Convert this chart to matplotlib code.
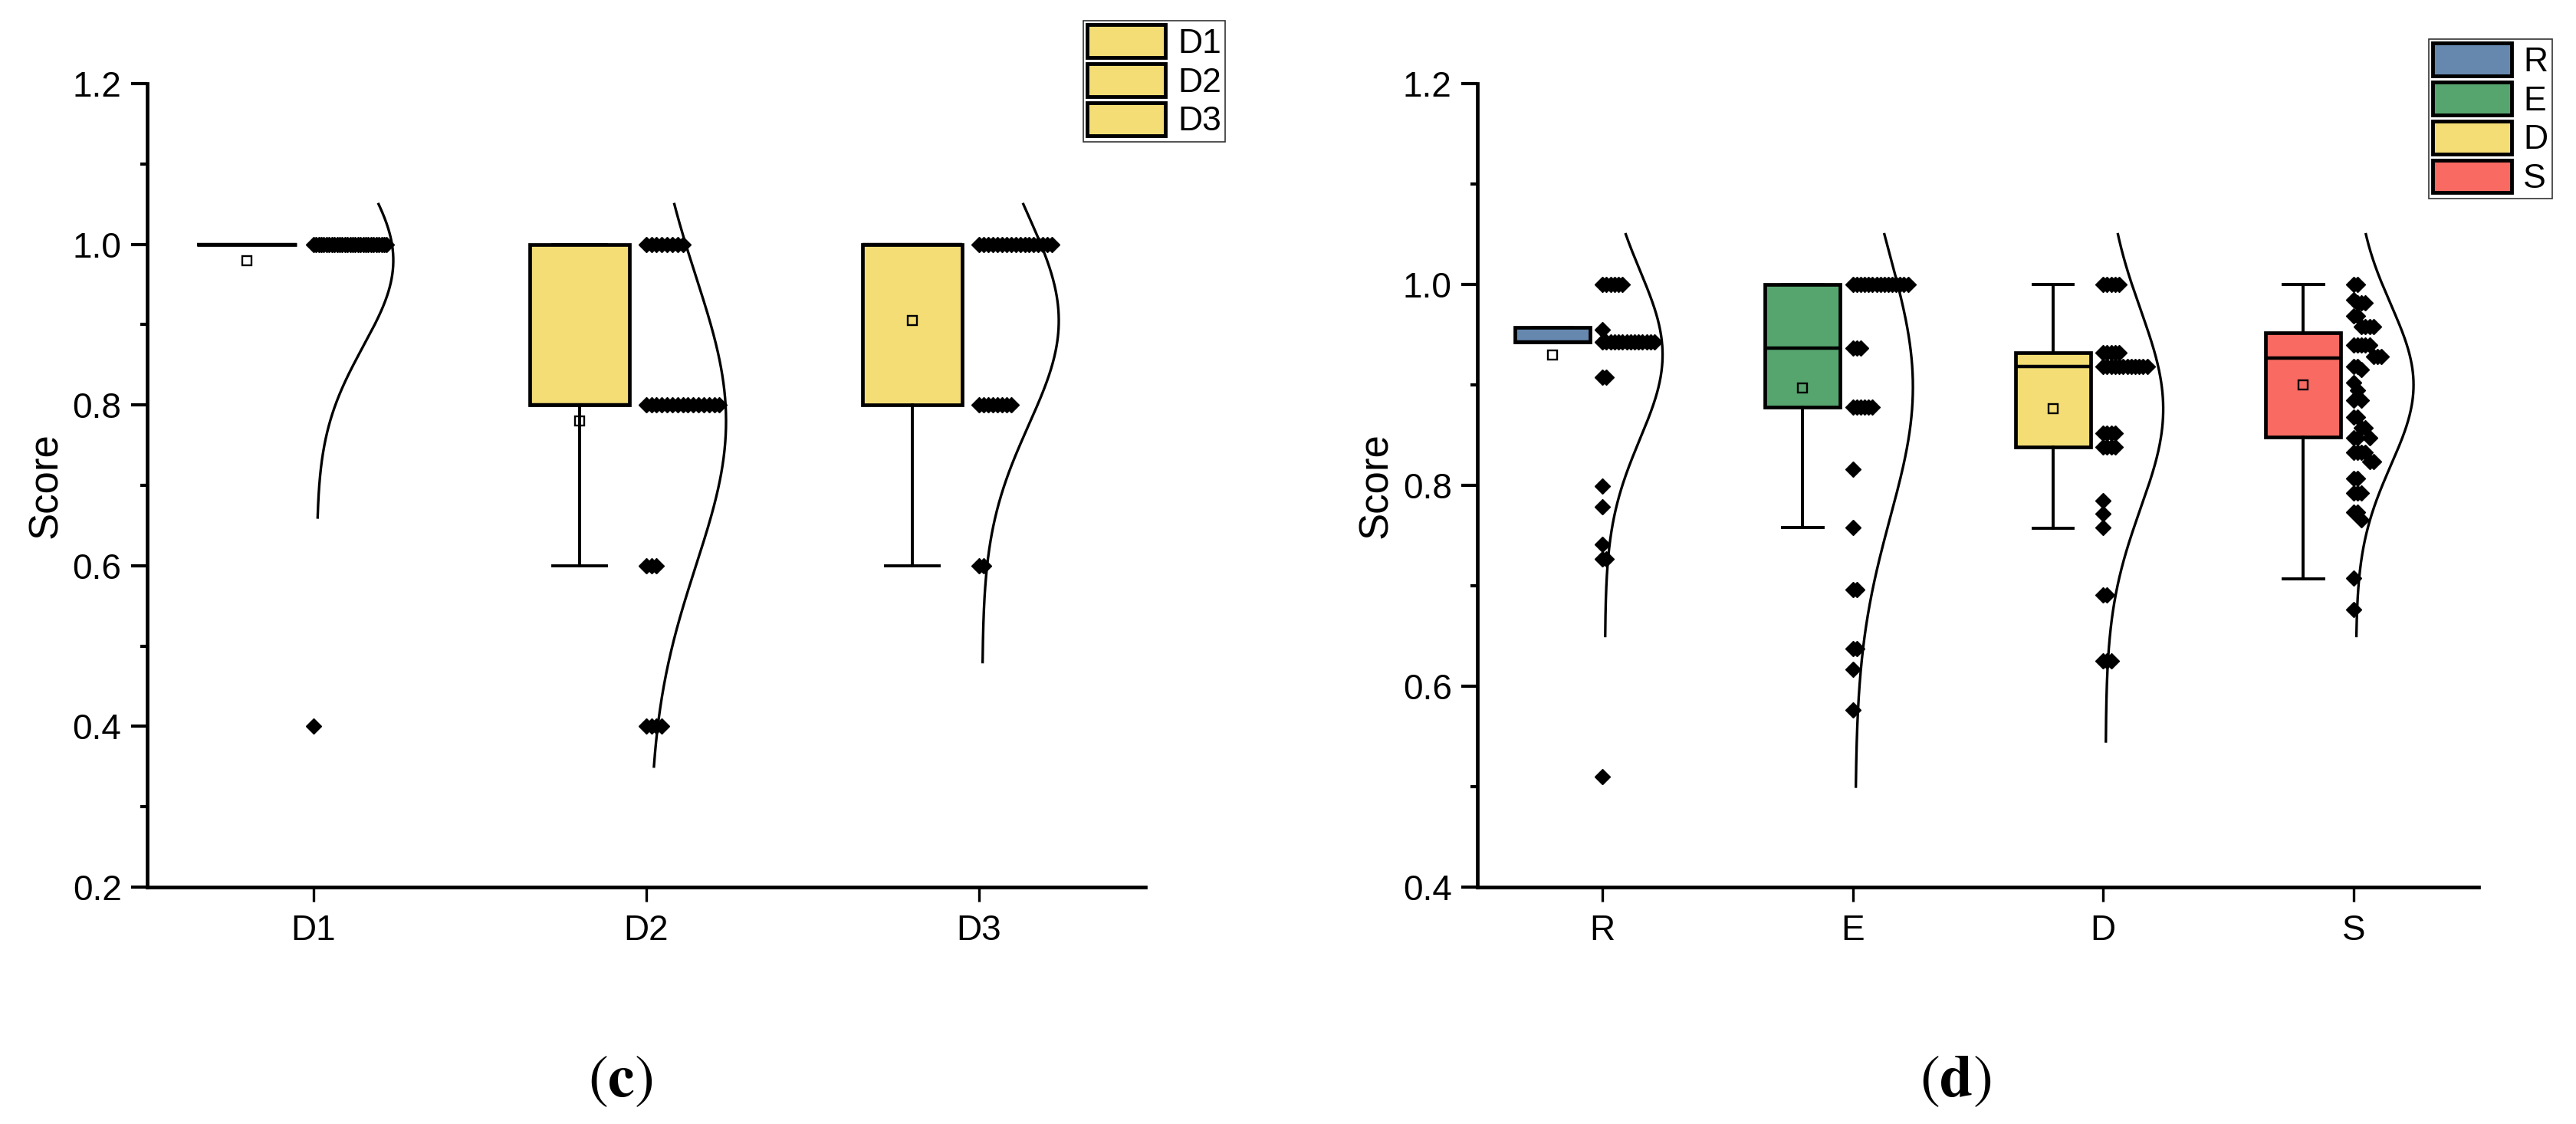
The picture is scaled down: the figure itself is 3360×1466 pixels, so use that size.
import numpy as np
import matplotlib
matplotlib.use("Agg")
import matplotlib.pyplot as plt
from matplotlib.patches import Patch
from matplotlib.ticker import MultipleLocator, FormatStrFormatter

plt.rcParams['font.family'] = ['Liberation Sans', 'DejaVu Sans']
plt.rcParams['mathtext.fontset'] = 'stix'

# ---- panel (c) data ----
c_groups = ['D1', 'D2', 'D3']
c_colors = ['#F3DD74', '#F3DD74', '#F3DD74']
c_points = [
    [1.0] * 29 + [0.4],
    [1.0] * 8 + [0.8] * 15 + [0.6] * 3 + [0.4] * 4,
    [1.0] * 17 + [0.8] * 8 + [0.6] * 2,
]
# box stats: q1, median, q3, whisker low, whisker high, mean
c_q1 = [1.0, 0.8, 0.8]
c_med = [1.0, 0.8, 1.0]
c_q3 = [1.0, 1.0, 1.0]
c_wlo = [1.0, 0.6, 0.6]
c_whi = [1.0, 1.0, 1.0]
c_mean = [0.98, 0.78, 0.905]
# normal curve: mean, sd, lower end
c_cmu = [0.98, 0.78, 0.905]
c_csd = [0.107, 0.18, 0.13]
c_clo = [0.66, 0.35, 0.48]

# ---- panel (d) data ----
d_groups = ['R', 'E', 'D', 'S']
d_colors = ['#6688AE', '#56A56F', '#F3DD74', '#F86A62']
d_points = [
    [1.0] * 6 + [0.955] + [0.943] * 14 + [0.908] * 2
    + [0.799, 0.779, 0.741, 0.727, 0.727, 0.51],
    [1.0] * 15 + [0.937] * 3 + [0.878] * 6
    + [0.816, 0.758, 0.696, 0.696, 0.6375, 0.6375, 0.617, 0.576],
    [1.0] * 5 + [0.932] * 5 + [0.918] * 12 + [0.852] * 4 + [0.838] * 4
    + [0.785, 0.772, 0.758, 0.691, 0.691, 0.625, 0.625, 0.625],
    [1.0, 1.0, 0.985, 0.982, 0.982, 0.982, 0.969, 0.969, 0.958, 0.958, 0.958, 0.958,
     0.94, 0.94, 0.94, 0.94, 0.94, 0.928, 0.928, 0.928, 0.918, 0.918, 0.915,
     0.902, 0.895, 0.885, 0.885, 0.868, 0.868, 0.857, 0.857, 0.847, 0.847, 0.847,
     0.833, 0.833, 0.833, 0.833, 0.824, 0.824, 0.807, 0.807, 0.792, 0.792, 0.792,
     0.773, 0.773, 0.766, 0.708, 0.676],
]
d_q1 = [0.943, 0.878, 0.838, 0.848]
d_med = [0.943, 0.937, 0.918, 0.927]
d_q3 = [0.957, 1.0, 0.932, 0.952]
d_wlo = [0.943, 0.758, 0.757, 0.707]
d_whi = [0.957, 1.0, 1.0, 1.0]
d_mean = [0.930, 0.897, 0.876, 0.900]
d_cmu = [0.93, 0.898, 0.876, 0.90]
d_csd = [0.084, 0.13, 0.099, 0.08]
d_clo = [0.65, 0.50, 0.545, 0.65]

CURVE_TOP = 1.05


def swarm_offsets(values, step, dy):
    """Spread equal/near values sideways, slot by slot."""
    placed = []
    offs = []
    for v in values:
        k = 0
        while any(abs(v - pv) < dy and pk == k for pv, pk in placed):
            k += 1
        placed.append((v, k))
        offs.append(k * step)
    return offs


def max_cluster(values, dy):
    offs = swarm_offsets(values, 1.0, dy)
    return int(max(offs)) + 1


def draw_panel(ax, groups, colors, points, q1, med, q3, wlo, whi, mean,
               cmu, csd, clo, ymin, dy):
    pos = np.arange(1, len(groups) + 1)
    stats = []
    for i, g in enumerate(groups):
        stats.append(dict(label=g, q1=q1[i], med=med[i], q3=q3[i],
                          whislo=wlo[i], whishi=whi[i], mean=mean[i], fliers=[]))
    bp = ax.bxp(stats, positions=pos - 0.2, widths=0.3, capwidths=0.16,
                patch_artist=True, showmeans=True, showfliers=False,
                boxprops=dict(linewidth=3.4, edgecolor='black'),
                whiskerprops=dict(linewidth=2.8, color='black'),
                capprops=dict(linewidth=2.8, color='black'),
                medianprops=dict(linewidth=3.2, color='black'),
                meanprops=dict(marker='s', markerfacecolor='none',
                               markeredgecolor='black', markersize=8.5,
                               markeredgewidth=1.7))
    for patch, col in zip(bp['boxes'], colors):
        patch.set_facecolor(col)

    for i, vals in enumerate(points):
        n_max = max_cluster(vals, dy)
        step = min(0.016, 0.22 / max(n_max - 1, 1))
        offs = swarm_offsets(vals, step, dy)
        ax.plot(pos[i] + np.array(offs), vals, linestyle='none', marker='D',
                markersize=10.5, color='black', zorder=3)

        y = np.linspace(clo[i], CURVE_TOP, 300)
        x = pos[i] + 0.01 + 0.23 * np.exp(-0.5 * ((y - cmu[i]) / csd[i]) ** 2)
        ax.plot(x, y, color='black', linewidth=2.4, zorder=4)

    ax.set_xlim(0.5, len(groups) + 0.5)
    ax.set_ylim(ymin, 1.2)
    ax.set_xticks(pos)
    ax.set_xticklabels(groups)
    ax.yaxis.set_major_locator(MultipleLocator(0.2))
    ax.yaxis.set_minor_locator(MultipleLocator(0.1))
    ax.yaxis.set_major_formatter(FormatStrFormatter('%.1f'))
    for side in ['top', 'right']:
        ax.spines[side].set_visible(False)
    for side in ['left', 'bottom']:
        ax.spines[side].set_linewidth(3.4)
    ax.tick_params(axis='y', which='major', length=15, width=3, labelsize=33, pad=9)
    ax.tick_params(axis='y', which='minor', length=6.5, width=3)
    ax.tick_params(axis='x', which='major', length=14, width=2.4, labelsize=33, pad=11)
    ax.set_ylabel('Score', fontsize=38)
    ax.yaxis.set_label_coords(-0.082, 0.5)


fig = plt.figure(figsize=(33.6, 14.66), dpi=100)
ax_c = fig.add_axes([0.0571, 0.2108, 0.3875, 0.7148])
ax_d = fig.add_axes([0.5735, 0.2108, 0.3887, 0.7148])

draw_panel(ax_c, c_groups, c_colors, c_points, c_q1, c_med, c_q3, c_wlo, c_whi,
           c_mean, c_cmu, c_csd, c_clo, 0.2, 0.012)
draw_panel(ax_d, d_groups, d_colors, d_points, d_q1, d_med, d_q3, d_wlo, d_whi,
           d_mean, d_cmu, d_csd, d_clo, 0.4, 0.012)

legend_kw = dict(loc='upper left', bbox_transform=fig.transFigure, fontsize=32,
                 fancybox=False, edgecolor='black', borderpad=0.12,
                 handlelength=2.3, handleheight=1.1, labelspacing=0.12,
                 handletextpad=0.35, borderaxespad=0)
leg_c = ax_c.legend([Patch(facecolor=c, edgecolor='black', linewidth=3.5) for c in c_colors],
                    c_groups, bbox_to_anchor=(0.4205, 0.9816), **legend_kw)
leg_d = ax_d.legend([Patch(facecolor=c, edgecolor='black', linewidth=3.5) for c in d_colors],
                    d_groups, bbox_to_anchor=(0.9429, 0.9652), **legend_kw)
for leg in (leg_c, leg_d):
    leg.get_frame().set_linewidth(1.2)

fig.text(809 / 3360, 1 - 1410 / 1466, r'$\mathrm{(}\mathbf{c}\mathrm{)}$',
         fontsize=56, ha='center', va='center')
fig.text(2551 / 3360, 1 - 1410 / 1466, r'$\mathrm{(}\mathbf{d}\mathrm{)}$',
         fontsize=56, ha='center', va='center')

fig.savefig('out.png', dpi=100)
